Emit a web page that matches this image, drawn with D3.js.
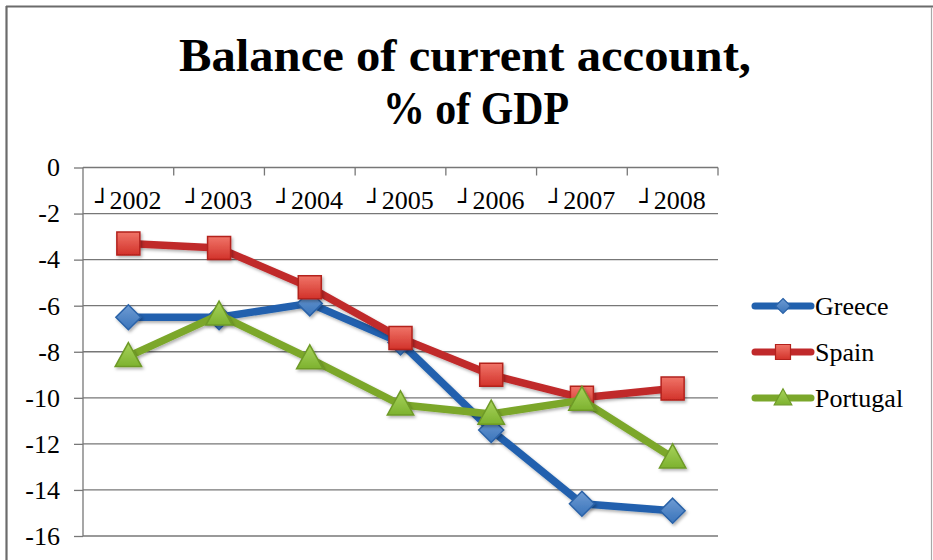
<!DOCTYPE html>
<html>
<head>
<meta charset="utf-8">
<script src="https://cdn.jsdelivr.net/npm/d3@7"></script>
<style>
  html, body { margin: 0; padding: 0; background: #fff; }
  svg { display: block; }
  text { font-family: "Liberation Serif", "Times New Roman", serif; fill: #000; }
</style>
</head>
<body>
<div id="chart"></div>
<script>
// Current account balance, % of GDP
const years = ["2002", "2003", "2004", "2005", "2006", "2007", "2008"];
const greece = [-6.5, -6.5, -5.9, -7.6, -11.4, -14.6, -14.9];
const spain = [-3.3, -3.5, -5.2, -7.4, -9.0, -10.0, -9.6];
const portugal = [-8.2, -6.4, -8.3, -10.3, -10.7, -10.1, -12.6];
const seriesNames = ["Greece", "Spain", "Portugal"];
const yTicks = [0, -2, -4, -6, -8, -10, -12, -14, -16];
const titleLines = ["Balance of current account,", "% of GDP"];

const W = 933, H = 560;
const svg = d3.select("#chart").append("svg").attr("width", W).attr("height", H);

const defs = svg.append("defs");
const shadow = defs.append("filter").attr("id", "shadow")
  .attr("x", "-50%").attr("y", "-50%").attr("width", "200%").attr("height", "200%");
shadow.append("feDropShadow").attr("dx", 1.5).attr("dy", 2).attr("stdDeviation", 1.6)
  .attr("flood-color", "#000").attr("flood-opacity", 0.3);

function grad(id, c1, c2) {
  const g = defs.append("linearGradient").attr("id", id)
    .attr("x1", 0).attr("y1", 0).attr("x2", 0).attr("y2", 1);
  g.append("stop").attr("offset", "0%").attr("stop-color", c1);
  g.append("stop").attr("offset", "100%").attr("stop-color", c2);
}
grad("gBlue", "#6E9BD3", "#3A74BA");
grad("gRed", "#F07468", "#D2322A");
grad("gGreen", "#A8D35C", "#7DB22F");

// Outer frame
svg.append("line").attr("x1", 6).attr("x2", W).attr("y1", 6.5).attr("y2", 6.5)
  .attr("stroke", "#6b6b6b").attr("stroke-width", 2.2);
svg.append("line").attr("x1", 6.5).attr("x2", 6.5).attr("y1", 6).attr("y2", H)
  .attr("stroke", "#6b6b6b").attr("stroke-width", 2.2);
svg.append("line").attr("x1", 931.5).attr("x2", 931.5).attr("y1", 7).attr("y2", H)
  .attr("stroke", "#a8a8a8").attr("stroke-width", 1.2);

// Title
const title = svg.append("g");
const titleWidths = [572, 186];
titleLines.forEach((t, i) => {
  title.append("text")
    .attr("x", 465 + i * 11).attr("y", 71 + i * 53)
    .attr("text-anchor", "middle")
    .attr("font-size", 46).attr("font-weight", "bold")
    .attr("textLength", titleWidths[i]).attr("lengthAdjust", "spacingAndGlyphs")
    .text(t);
});

// Scales
const x = d3.scaleBand().domain(years).range([83, 718]);
const y = d3.scaleLinear().domain([-16, 0]).range([536, 167.5]);
const cx = d => x(d) + x.bandwidth() / 2;

// Horizontal gridlines + value axis
const yAxis = d3.axisLeft(y).tickValues(yTicks).tickSize(9).tickPadding(14)
  .tickFormat(d => d === 0 ? "0" : "-" + Math.abs(d));
const yg = svg.append("g").attr("transform", "translate(83,0)").call(yAxis);
yg.select(".domain").attr("stroke", "#777").attr("stroke-width", 1.3).attr("d", `M0,${y(0)}V${y(-16)}`);
yg.selectAll(".tick line").attr("stroke", "#777").attr("stroke-width", 1.3);
yg.selectAll(".tick text").attr("font-size", 26).attr("font-family", "Liberation Serif, serif").attr("fill", "#000");

svg.append("g").selectAll("line").data(yTicks).join("line")
  .attr("x1", 83).attr("x2", 718)
  .attr("y1", d => y(d)).attr("y2", d => y(d))
  .attr("stroke", "#777").attr("stroke-width", 1.3);

// Category axis along the zero line
const bounds = years.map(d => x(d)).concat([x.range()[1]]);
svg.append("g").selectAll("line").data(bounds.slice(1)).join("line")
  .attr("x1", d => d).attr("x2", d => d)
  .attr("y1", y(0)).attr("y2", y(0) + 8)
  .attr("stroke", "#777").attr("stroke-width", 1.3);

const catLabels = svg.append("g").selectAll("text").data(years).join("text")
  .attr("x", d => cx(d)).attr("y", 209)
  .attr("text-anchor", "middle").attr("font-size", 26);
catLabels.append("tspan").attr("font-size", 24).attr("font-family", "DejaVu Sans Mono, monospace")
  .attr("dy", 1).text("┘");
catLabels.append("tspan").attr("dx", 0).attr("dy", -1).text(d => d);

// Series
const series = [
  { name: seriesNames[0], values: greece, line: "#2161AE", stroke: "#2A62A8", fill: "url(#gBlue)", shape: "diamond" },
  { name: seriesNames[1], values: spain, line: "#C0292B", stroke: "#B3211C", fill: "url(#gRed)", shape: "square" },
  { name: seriesNames[2], values: portugal, line: "#7BA72B", stroke: "#6E9A27", fill: "url(#gGreen)", shape: "triangle" }
];

function markerPath(shape, s) {
  if (shape === "diamond") return `M0,${-s}L${s},0L0,${s}L${-s},0Z`;
  if (shape === "square") return `M${-s},${-s}H${s}V${s}H${-s}Z`;
  return `M0,${-s * 1.15}L${s * 1.1},${s * 0.85}H${-s * 1.1}Z`;
}
const markerSize = { diamond: 12.5, square: 11.5, triangle: 12 };

const line = d3.line().x(d => cx(d.year)).y(d => y(d.value));

series.forEach(s => {
  const pts = years.map((yr, i) => ({ year: yr, value: s.values[i] }));
  const g = svg.append("g");
  g.append("path").datum(pts)
    .attr("d", line).attr("fill", "none")
    .attr("stroke", s.line).attr("stroke-width", 7.5)
    .attr("stroke-linejoin", "round").attr("stroke-linecap", "round")
    .attr("filter", "url(#shadow)");
  g.selectAll("path.mk").data(pts).join("path").attr("class", "mk")
    .attr("transform", d => `translate(${cx(d.year)},${y(d.value)})`)
    .attr("d", markerPath(s.shape, markerSize[s.shape]))
    .attr("fill", s.fill).attr("stroke", s.stroke).attr("stroke-width", 1.5)
    .attr("filter", "url(#shadow)");
});

// Legend
const legend = svg.append("g").attr("transform", "translate(755,306)");
series.forEach((s, i) => {
  const row = legend.append("g").attr("transform", `translate(0,${i * 46})`);
  row.append("line").attr("x1", 0).attr("x2", 56).attr("y1", 0).attr("y2", 0)
    .attr("stroke", s.line).attr("stroke-width", 7).attr("stroke-linecap", "round");
  row.append("path").attr("transform", "translate(28,0)")
    .attr("d", markerPath(s.shape, s.shape === "triangle" ? 8 : 7.5))
    .attr("fill", s.fill).attr("stroke", s.stroke).attr("stroke-width", 1.2);
  row.append("text").attr("x", 60).attr("y", 9).attr("font-size", 26).text(s.name);
});
</script>
</body>
</html>
